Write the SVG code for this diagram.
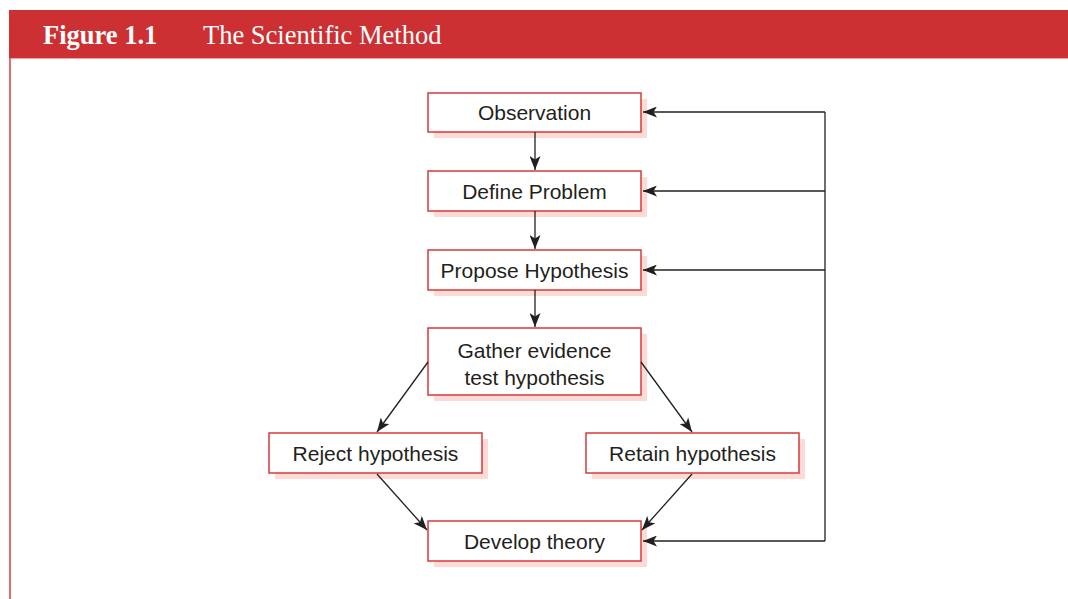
<svg xmlns="http://www.w3.org/2000/svg" width="1068" height="599" viewBox="0 0 1068 599">
  <style>
    .shadow { fill: #fcdad5; }
    .box { fill: #ffffff; stroke: #d8383d; stroke-width: 1.5; }
    .label { font-family: "Liberation Sans", Arial, sans-serif; font-size: 21px; fill: #231f20; text-anchor: middle; }
    .conn { fill: none; stroke: #231f20; stroke-width: 1.3; }
    .title { font-family: "Liberation Serif", "Times New Roman", serif; font-size: 26.5px; fill: #ffffff; }
  </style>
  <defs>
    <marker id="arrow" viewBox="0 0 14 11" refX="14" refY="5.5" markerWidth="14" markerHeight="11" markerUnits="userSpaceOnUse" orient="auto">
      <path d="M0,0 L14,5.5 L0,11 L3.5,5.5 Z" fill="#231f20"/>
    </marker>
  </defs>

  <rect width="1068" height="599" fill="#ffffff"/>

  <!-- header band -->
  <g id="header">
    <rect x="9" y="10" width="1059" height="48" fill="#cd3033"/>
    <line x1="9" y1="58.5" x2="1068" y2="58.5" stroke="#f0a6a3" stroke-width="1"/>
    <line x1="10" y1="58" x2="10" y2="599" stroke="#e06a6c" stroke-width="2"/>
    <text class="title" x="43" y="44" font-weight="bold">Figure 1.1</text>
    <text class="title" x="203" y="44">The Scientific Method</text>
  </g>

  <g id="observation">
    <rect class="shadow" x="434" y="99" width="213" height="39"/>
    <rect class="box" x="428" y="93" width="213" height="39"/>
    <text class="label" x="534.5" y="119.5">Observation</text>
  </g>

  <g id="define-problem">
    <rect class="shadow" x="434" y="177" width="213" height="40"/>
    <rect class="box" x="428" y="171" width="213" height="40"/>
    <text class="label" x="534.5" y="198.5">Define Problem</text>
  </g>

  <g id="propose-hypothesis">
    <rect class="shadow" x="434" y="256" width="213" height="40"/>
    <rect class="box" x="428" y="250" width="213" height="40"/>
    <text class="label" x="534.5" y="277.5">Propose Hypothesis</text>
  </g>

  <g id="gather-evidence">
    <rect class="shadow" x="434" y="334" width="213" height="67"/>
    <rect class="box" x="428" y="328" width="213" height="67"/>
    <text class="label" x="534.5" y="358">Gather evidence</text>
    <text class="label" x="534.5" y="385">test hypothesis</text>
  </g>

  <g id="reject-hypothesis">
    <rect class="shadow" x="275" y="439" width="213" height="40"/>
    <rect class="box" x="269" y="433" width="213" height="40"/>
    <text class="label" x="375.5" y="460.5">Reject hypothesis</text>
  </g>

  <g id="retain-hypothesis">
    <rect class="shadow" x="592" y="439" width="213" height="40"/>
    <rect class="box" x="586" y="433" width="213" height="40"/>
    <text class="label" x="692.5" y="460.5">Retain hypothesis</text>
  </g>

  <g id="develop-theory">
    <rect class="shadow" x="434" y="527" width="213" height="40"/>
    <rect class="box" x="428" y="521" width="213" height="40"/>
    <text class="label" x="534.5" y="548.5">Develop theory</text>
  </g>

  <!-- connectors -->
  <g id="connectors">
    <line class="conn" x1="535" y1="132" x2="535" y2="170" marker-end="url(#arrow)"/>
    <line class="conn" x1="535" y1="211" x2="535" y2="249" marker-end="url(#arrow)"/>
    <line class="conn" x1="535" y1="290" x2="535" y2="327" marker-end="url(#arrow)"/>
    <line class="conn" x1="428" y1="362" x2="377" y2="432" marker-end="url(#arrow)"/>
    <line class="conn" x1="641" y1="362" x2="692" y2="432" marker-end="url(#arrow)"/>
    <line class="conn" x1="377" y1="474" x2="427" y2="530" marker-end="url(#arrow)"/>
    <line class="conn" x1="692" y1="474" x2="642" y2="530" marker-end="url(#arrow)"/>
    <path class="conn" d="M825,112 V541"/>
    <line class="conn" x1="825" y1="112" x2="643" y2="112" marker-end="url(#arrow)"/>
    <line class="conn" x1="825" y1="191" x2="643" y2="191" marker-end="url(#arrow)"/>
    <line class="conn" x1="825" y1="270" x2="643" y2="270" marker-end="url(#arrow)"/>
    <line class="conn" x1="825" y1="541" x2="643" y2="541" marker-end="url(#arrow)"/>
  </g>
</svg>
